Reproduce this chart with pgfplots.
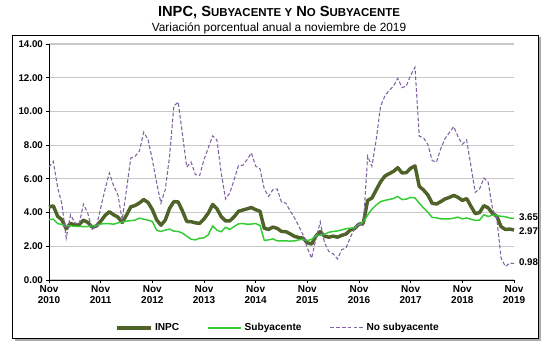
\documentclass[border=0pt]{standalone}
\usepackage{pgfplots}
\pgfplotsset{compat=1.18}
\usepackage{pgfplotstable}
\usepackage{fontspec}
\setmainfont{Liberation Sans}
\definecolor{inpc}{RGB}{79,98,40}
\definecolor{sub}{RGB}{51,204,51}
\definecolor{nosub}{RGB}{128,100,162}
\definecolor{gridc}{RGB}{200,200,200}
\pgfplotstableread{
m inpc core nc
0 4.32 3.58 6.70
1 4.40 3.61 7.04
2 3.78 3.35 5.50
3 3.57 3.29 4.50
4 3.04 3.21 2.48
5 3.36 3.21 3.87
6 3.25 3.19 3.40
7 3.28 3.18 3.30
8 3.55 3.17 4.50
9 3.42 3.17 3.97
10 3.14 3.21 3.00
11 3.20 3.21 3.17
12 3.48 3.32 4.27
13 3.82 3.35 5.36
14 4.05 3.34 6.35
15 3.87 3.31 5.60
16 3.73 3.39 5.06
17 3.41 3.42 3.57
18 3.85 3.50 5.36
19 4.34 3.52 7.24
20 4.42 3.55 7.34
21 4.57 3.67 7.64
22 4.77 3.61 8.77
23 4.60 3.55 8.33
24 4.18 3.47 7.14
25 3.57 2.95 5.75
26 3.25 2.88 4.56
27 3.55 2.96 5.36
28 4.25 3.02 7.34
29 4.65 2.90 10.32
30 4.63 2.88 10.56
31 4.09 2.78 8.63
32 3.47 2.60 6.70
33 3.46 2.42 7.00
34 3.39 2.38 6.25
35 3.36 2.48 6.20
36 3.62 2.50 7.14
37 3.97 2.68 7.84
38 4.48 3.21 8.55
39 4.23 2.96 8.30
40 3.76 2.86 6.35
41 3.50 3.13 4.80
42 3.51 3.00 5.16
43 3.75 3.17 5.95
44 4.07 3.33 6.79
45 4.15 3.35 6.80
46 4.22 3.31 7.14
47 4.30 3.32 7.54
48 4.17 3.35 6.75
49 4.08 3.24 6.60
50 3.07 2.35 5.40
51 3.00 2.38 4.96
52 3.14 2.44 5.36
53 3.06 2.32 5.40
54 2.88 2.32 4.62
55 2.87 2.32 4.56
56 2.74 2.31 4.10
57 2.59 2.32 3.70
58 2.52 2.38 3.20
59 2.48 2.42 2.68
60 2.21 2.34 1.90
61 2.13 2.41 1.29
62 2.61 2.64 2.45
63 2.87 2.66 3.45
64 2.60 2.71 2.20
65 2.54 2.83 1.69
66 2.60 2.88 1.55
67 2.54 2.91 1.25
68 2.65 2.97 1.80
69 2.73 3.05 1.90
70 2.97 3.07 2.55
71 3.06 3.10 3.05
72 3.31 3.29 3.37
73 3.36 3.44 3.20
74 4.72 3.85 7.34
75 4.86 4.20 6.75
76 5.35 4.45 8.33
77 5.82 4.65 10.30
78 6.16 4.72 10.91
79 6.31 4.78 11.25
80 6.44 4.83 11.50
81 6.66 4.96 11.96
82 6.35 4.77 11.41
83 6.37 4.80 11.51
84 6.63 4.90 12.15
85 6.77 4.87 12.62
86 5.55 4.56 8.53
87 5.34 4.27 8.43
88 5.04 4.02 8.04
89 4.55 3.71 7.08
90 4.51 3.69 7.00
91 4.65 3.62 7.80
92 4.81 3.63 8.40
93 4.90 3.63 8.75
94 5.02 3.67 9.10
95 4.90 3.73 8.50
96 4.72 3.63 8.05
97 4.83 3.68 8.30
98 4.37 3.60 6.75
99 3.94 3.54 5.20
100 4.00 3.55 5.40
101 4.41 3.87 6.05
102 4.28 3.77 5.80
103 3.95 3.85 4.25
104 3.78 3.82 3.65
105 3.16 3.78 1.30
106 3.00 3.75 0.80
107 3.02 3.68 1.00
108 2.97 3.65 0.98
}\datatable
\newcommand{\sm}[1]{{\fontsize{8.6}{10}\selectfont #1}}
\begin{document}
\begin{tikzpicture}[x=0.75pt,y=0.75pt]
\path[use as bounding box] (0,0) rectangle (555,353);
% frame with shadow
\fill[gray!65] (14.5,12.5) rectangle (540.5,315.5);
\draw[black, fill=white, line width=0.6pt] (12,15) rectangle (538,318);
% titles
\node[font=\bfseries\fontsize{11}{12}\selectfont, inner sep=0pt] at (279,340.5) {INPC, S\sm{UBYACENTE Y} N\sm{O} S\sm{UBYACENTE}};
\node[font=\fontsize{8.9}{10}\selectfont, inner sep=0pt] at (279,324.5) {Variación porcentual anual a noviembre de 2019};
\begin{axis}[
  at={(36.75pt,54.75pt)}, anchor=south west,
  scale only axis, width=348.75pt, height=177pt,
  xmin=0, xmax=108, ymin=0, ymax=14,
  axis x line*=bottom, axis y line*=left,
  axis line style={black, line width=0.6pt},
  tick align=outside, major tick length=2.4pt,
  tick style={black, line width=0.6pt},
  xtick={0,12,...,108},
  xticklabels={{Nov\\2010},{Nov\\2011},{Nov\\2012},{Nov\\2013},{Nov\\2014},{Nov\\2015},{Nov\\2016},{Nov\\2017},{Nov\\2018},{Nov\\2019}},
  xticklabel style={align=center, font=\bfseries\fontsize{7.5}{8.3}\selectfont, inner sep=1.5pt},
  ytick={0,2,...,14},
  yticklabels={0.00,2.00,4.00,6.00,8.00,10.00,12.00,14.00},
  yticklabel style={font=\bfseries\fontsize{7.3}{8}\selectfont, inner sep=2pt},
  ymajorgrids, grid style={gridc, line width=0.9pt},
  clip=false,
  legend image code/.code={\draw[#1] (0pt,0pt) -- (25pt,0pt);},
  legend style={at={(0.4935,-0.203)}, anchor=center, legend columns=3, draw=none, fill=none,
    font=\bfseries\fontsize{7.6}{9}\selectfont,
    /tikz/every even column/.append style={column sep=19pt},
    /tikz/every odd column/.append style={column sep=0pt}},
  legend cell align=left,
]
\addplot[inpc, line width=2.6pt, line join=round] table[x=m, y=inpc] {\datatable};
\addlegendentry{INPC}
\addplot[sub, line width=1.1pt, line join=round] table[x=m, y=core] {\datatable};
\addlegendentry{Subyacente}
\addplot[nosub, line width=0.8pt, dash pattern=on 2.8pt off 1.6pt] table[x=m, y=nc] {\datatable};
\addlegendentry{No subyacente}
\node[anchor=west, font=\bfseries\fontsize{7.3}{8}\selectfont, inner sep=0pt] at ([xshift=3.6pt, yshift=1.2pt]axis cs:108,3.65) {3.65};
\node[anchor=west, font=\bfseries\fontsize{7.3}{8}\selectfont, inner sep=0pt] at ([xshift=3.6pt, yshift=-1.2pt]axis cs:108,2.97) {2.97};
\node[anchor=west, font=\bfseries\fontsize{7.3}{8}\selectfont, inner sep=0pt] at ([xshift=3.6pt, yshift=1.3pt]axis cs:108,0.98) {0.98};
\end{axis}
\end{tikzpicture}
\end{document}
